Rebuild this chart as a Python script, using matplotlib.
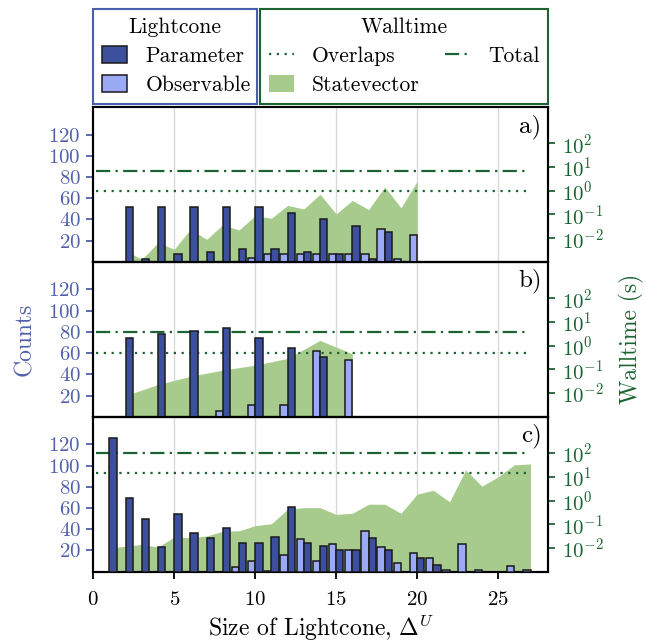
import matplotlib

matplotlib.use("Agg")
import matplotlib.pyplot as plt
from matplotlib.lines import Line2D
from matplotlib.patches import Patch
from matplotlib.ticker import NullLocator

# panel a
A_PARAM_X = [2, 3, 4, 5, 6, 7, 8, 9, 10, 11, 12, 13, 14, 15, 16, 17, 18]
A_PARAM_N = [52, 3, 52, 7, 52, 9, 52, 12, 52, 12, 46, 9, 40, 7, 34, 3, 28]
A_OBS_X = [10, 11, 12, 13, 14, 15, 16, 17, 18, 19, 20]
A_OBS_N = [4, 7, 7, 7, 7, 7, 7, 7, 31, 3, 25]
A_SV_X = [2, 3, 4, 5, 6, 7, 8, 9, 10, 11, 12, 13, 14, 15, 16, 17, 18, 19, 20]
A_SV_T = [0.0029, 0.0013, 0.0065, 0.0034, 0.024, 0.0089, 0.037, 0.022, 0.089,
          0.069, 0.24, 0.17, 0.71, 0.105, 0.39, 0.16, 1.45, 0.19, 2.5]
A_OVERLAPS = 1.0
A_TOTAL = 6.8

# panel b
B_PARAM_X = [2, 4, 6, 8, 10, 12, 14]
B_PARAM_N = [74, 78, 81, 84, 74, 65, 56]
B_OBS_X = [8, 10, 12, 14, 16]
B_OBS_N = [5, 11, 11, 62, 54]
B_SV_X = [2, 4, 6, 8, 10, 12, 14, 16]
B_SV_T = [0.0079, 0.023, 0.051, 0.093, 0.15, 0.29, 1.66, 0.45]
B_OVERLAPS = 0.49
B_TOTAL = 3.9

# panel c
C_PARAM_X = [1, 2, 3, 4, 5, 6, 7, 8, 9, 10, 11, 12, 13, 14, 15, 16, 17, 18, 20, 21]
C_PARAM_N = [126, 69, 50, 23, 54, 36, 32, 41, 27, 27, 33, 61, 27, 24, 20, 20, 32, 20, 13, 6]
C_OBS_X = [9, 10, 11, 12, 13, 14, 15, 16, 17, 18, 19, 20, 21, 22, 23, 24, 26, 27]
C_OBS_N = [4, 10, 1, 16, 31, 10, 26, 20, 38, 23, 8, 18, 13, 2, 26, 2, 5, 2]
C_SV_X = list(range(1, 28))
C_SV_T = [0.0102, 0.0117, 0.0142, 0.011, 0.029, 0.027, 0.032, 0.051, 0.053, 0.087,
          0.105, 0.43, 0.5, 0.5, 0.26, 0.29, 0.7, 0.7, 0.29, 1.85, 2.7, 0.88,
          19.5, 4.0, 10.0, 32.0, 35.0]
C_OVERLAPS = 15.0
C_TOTAL = 100.0

PANEL_LABELS = ["a)", "b)", "c)"]
COUNT_TICKS = [20, 40, 60, 80, 100, 120]
TIME_TICKS = [1e-2, 1e-1, 1e0, 1e1, 1e2]
X_TICKS = [0, 5, 10, 15, 20, 25]

PARAM_COLOR = "#3c509e"
OBS_COLOR = "#9aaaf5"
SV_COLOR = "#a6cb8c"
LINE_GREEN = "#1b6432"
COUNT_BLUE = "#5060aa"
EDGE = "#1a1a1a"

plt.rcParams.update({
    "font.family": "serif",
    "font.serif": ["cmr10"],
    "mathtext.fontset": "cm",
    "axes.formatter.use_mathtext": True,
    "font.size": 15,
    "axes.linewidth": 1.5,
})


def _draw_panel(ax, panel, label, show_x):
    ax2 = ax.twinx()
    ax.set_zorder(ax2.get_zorder() + 1)
    ax.patch.set_visible(False)

    for gx in X_TICKS[1:]:
        ax2.axvline(gx, color="#d9d9d9", linewidth=1.0, zorder=0)
    ax2.fill_between(panel["sv_x"], 1e-4, panel["sv_t"], color=SV_COLOR, linewidth=0, zorder=1)
    ax2.axhline(panel["overlaps"], xmin=0.006, xmax=0.957, color=LINE_GREEN,
                linewidth=1.6, linestyle=(0, (1, 2.5)), zorder=2)
    ax2.axhline(panel["total"], xmin=0.006, xmax=0.957, color=LINE_GREEN,
                linewidth=1.6, linestyle=(0, (6.4, 2.4, 1, 2.4)), zorder=2)
    ax2.set_yscale("log")
    ax2.set_ylim(1e-3, 10 ** 3.53)
    ax2.set_yticks(TIME_TICKS)
    ax2.yaxis.set_minor_locator(NullLocator())
    ax2.tick_params(axis="y", colors=LINE_GREEN, labelcolor=LINE_GREEN,
                    length=5, width=1.3, pad=5)
    for side in ax2.spines.values():
        side.set_color("black")

    ax.bar(panel["obs_x"], panel["obs_n"], width=-0.45, align="edge", color=OBS_COLOR,
           edgecolor=EDGE, linewidth=1.1, zorder=3)
    ax.bar(panel["param_x"], panel["param_n"], width=0.45, align="edge", color=PARAM_COLOR,
           edgecolor=EDGE, linewidth=1.1, zorder=4)
    ax.set_xlim(0, 28.1)
    ax.set_ylim(0, 146)
    ax.set_yticks(COUNT_TICKS)
    ax.tick_params(axis="y", colors=COUNT_BLUE, labelcolor=COUNT_BLUE,
                   length=5, width=1.3, pad=4)
    ax.set_xticks(X_TICKS)
    if show_x:
        ax.tick_params(axis="x", length=5, width=1.3, pad=9)
    else:
        ax.tick_params(axis="x", bottom=False, labelbottom=False)
    ax.text(0.985, 0.955, label, transform=ax.transAxes, ha="right", va="top", fontsize=18)
    return ax2


def main():
    panels = [
        dict(param_x=A_PARAM_X, param_n=A_PARAM_N, obs_x=A_OBS_X, obs_n=A_OBS_N,
             sv_x=A_SV_X, sv_t=A_SV_T, overlaps=A_OVERLAPS, total=A_TOTAL),
        dict(param_x=B_PARAM_X, param_n=B_PARAM_N, obs_x=B_OBS_X, obs_n=B_OBS_N,
             sv_x=B_SV_X, sv_t=B_SV_T, overlaps=B_OVERLAPS, total=B_TOTAL),
        dict(param_x=C_PARAM_X, param_n=C_PARAM_N, obs_x=C_OBS_X, obs_n=C_OBS_N,
             sv_x=C_SV_X, sv_t=C_SV_T, overlaps=C_OVERLAPS, total=C_TOTAL),
    ]

    fig = plt.figure(figsize=(6.46, 6.43), dpi=100)
    left, width, height = 0.1444, 0.7044, 0.2409
    bottoms = [0.5927, 0.3518, 0.1109]

    twins = []
    axes = []
    for i, (panel, label) in enumerate(zip(panels, PANEL_LABELS)):
        ax = fig.add_axes([left, bottoms[i], width, height])
        twins.append(_draw_panel(ax, panel, label, show_x=(i == 2)))
        axes.append(ax)

    axes[1].set_ylabel("Counts", color=COUNT_BLUE, fontsize=17, labelpad=9)
    twins[1].set_ylabel("Walltime (s)", color=LINE_GREEN, fontsize=17, labelpad=11)
    axes[2].set_xlabel(r"Size of Lightcone, $\Delta^U$", fontsize=17, labelpad=3)

    legend_style = dict(loc="lower left", mode="expand", borderaxespad=0, fancybox=False,
                        framealpha=1, fontsize=15.5, title_fontsize=15.5, handlelength=1.15,
                        handleheight=0.8, handletextpad=0.85, labelspacing=0.42, borderpad=0.42)

    light_handles = [
        Patch(facecolor=PARAM_COLOR, edgecolor=EDGE, linewidth=1.1),
        Patch(facecolor=OBS_COLOR, edgecolor=EDGE, linewidth=1.1),
    ]
    leg1 = fig.legend(light_handles, ["Parameter", "Observable"], title="Lightcone",
                      bbox_to_anchor=(0.1444, 0.8383, 0.253, 0.15), edgecolor="#4a5eae",
                      **legend_style)
    leg1.get_frame().set_linewidth(1.5)

    wall_handles = [
        Line2D([], [], color=LINE_GREEN, linewidth=1.6, linestyle=(0, (1, 2.5))),
        Patch(facecolor=SV_COLOR, edgecolor="none"),
        Line2D([], [], color=LINE_GREEN, linewidth=1.6, linestyle=(0, (6.4, 2.4, 1, 2.4))),
    ]
    leg2 = fig.legend(wall_handles, ["Overlaps", "Statevector", "Total"], title="Walltime",
                      ncol=2, bbox_to_anchor=(0.4025, 0.8383, 0.4463, 0.15),
                      edgecolor=LINE_GREEN, columnspacing=1.0, **legend_style)
    leg2.get_frame().set_linewidth(1.5)

    fig.savefig("out.png", dpi=100)
    plt.close(fig)


if __name__ == "__main__":
    main()
